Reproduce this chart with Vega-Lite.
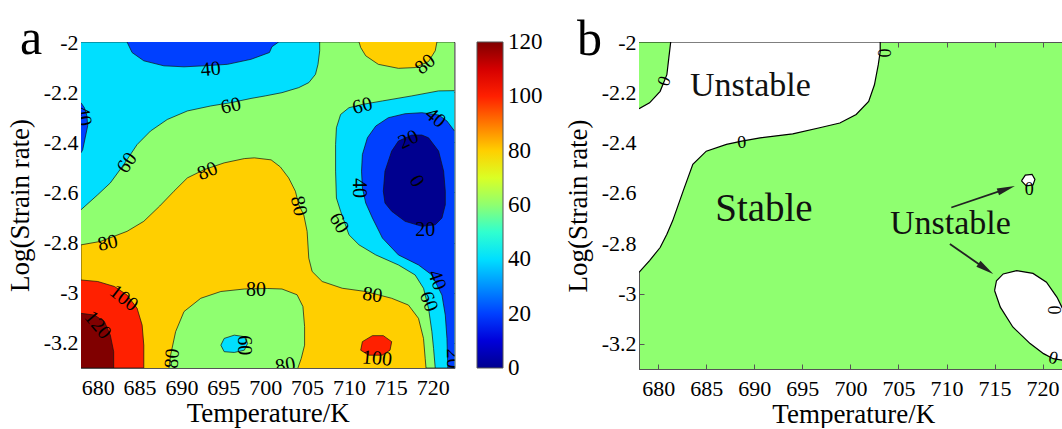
{
  "$schema": "https://vega.github.io/schema/vega-lite/v6.json",
  "background": "white",
  "padding": {"left": 5, "top": 13, "right": 0, "bottom": 0},
  "spacing": 19,
  "config": {
    "font": "Liberation Serif",
    "style": {"guide-label": {"font": "Liberation Serif"}, "guide-title": {"font": "Liberation Serif"}},
    "text": {"font": "Liberation Serif", "color": "#000"},
    "axis": {"labelFont": "Liberation Serif", "titleFont": "Liberation Serif", "labelFontSize": 22, "titleFontSize": 27, "titleFontWeight": "normal", "labelColor": "#000", "titleColor": "#000", "grid": false, "domainColor": "#555", "tickColor": "#555", "tickSize": -5, "labelPadding": 14},
    "axisY": {"labelPadding": 8, "titlePadding": 9},
    "axisX": {"titlePadding": 2},
    "legend": {"labelFont": "Liberation Serif"}
  },
  "resolve": {"scale": {"x": "independent", "y": "independent", "fill": "independent"}, "legend": {"fill": "independent"}},
  "datasets": {
    "a_regions": [
      {"region": "r01", "i": 1, "T": 678, "Y": -2, "level": 60},
      {"region": "r01", "i": 2, "T": 722.6, "Y": -2, "level": 60},
      {"region": "r01", "i": 3, "T": 722.6, "Y": -3.3, "level": 60},
      {"region": "r01", "i": 4, "T": 678, "Y": -3.3, "level": 60},

      {"region": "r02", "i": 1, "T": 678, "Y": -2, "level": 40},
      {"region": "r02", "i": 2, "T": 706.5, "Y": -2, "level": 40},
      {"region": "r02", "i": 3, "T": 706.5, "Y": -2.035, "level": 40},
      {"region": "r02", "i": 4, "T": 706.3, "Y": -2.089, "level": 40},
      {"region": "r02", "i": 5, "T": 706.0, "Y": -2.129, "level": 40},
      {"region": "r02", "i": 6, "T": 705.2, "Y": -2.162, "level": 40},
      {"region": "r02", "i": 7, "T": 704.0, "Y": -2.182, "level": 40},
      {"region": "r02", "i": 8, "T": 702.0, "Y": -2.202, "level": 40},
      {"region": "r02", "i": 9, "T": 700.0, "Y": -2.215, "level": 40},
      {"region": "r02", "i": 10, "T": 698.3, "Y": -2.225, "level": 40},
      {"region": "r02", "i": 11, "T": 695.9, "Y": -2.242, "level": 40},
      {"region": "r02", "i": 12, "T": 693.5, "Y": -2.255, "level": 40},
      {"region": "r02", "i": 13, "T": 690.7, "Y": -2.275, "level": 40},
      {"region": "r02", "i": 14, "T": 688.3, "Y": -2.309, "level": 40},
      {"region": "r02", "i": 15, "T": 686.3, "Y": -2.355, "level": 40},
      {"region": "r02", "i": 16, "T": 684.7, "Y": -2.409, "level": 40},
      {"region": "r02", "i": 17, "T": 683.1, "Y": -2.489, "level": 40},
      {"region": "r02", "i": 18, "T": 681.5, "Y": -2.562, "level": 40},
      {"region": "r02", "i": 19, "T": 680.0, "Y": -2.609, "level": 40},
      {"region": "r02", "i": 20, "T": 678.0, "Y": -2.669, "level": 40},

      {"region": "r03", "i": 1, "T": 722.6, "Y": -2.194, "level": 40},
      {"region": "r03", "i": 2, "T": 720.7, "Y": -2.195, "level": 40},
      {"region": "r03", "i": 3, "T": 717.5, "Y": -2.215, "level": 40},
      {"region": "r03", "i": 4, "T": 714.0, "Y": -2.235, "level": 40},
      {"region": "r03", "i": 5, "T": 711.6, "Y": -2.249, "level": 40},
      {"region": "r03", "i": 6, "T": 710.0, "Y": -2.262, "level": 40},
      {"region": "r03", "i": 7, "T": 709.0, "Y": -2.289, "level": 40},
      {"region": "r03", "i": 8, "T": 708.5, "Y": -2.342, "level": 40},
      {"region": "r03", "i": 9, "T": 708.4, "Y": -2.409, "level": 40},
      {"region": "r03", "i": 10, "T": 708.4, "Y": -2.515, "level": 40},
      {"region": "r03", "i": 11, "T": 708.5, "Y": -2.622, "level": 40},
      {"region": "r03", "i": 12, "T": 709.0, "Y": -2.675, "level": 40},
      {"region": "r03", "i": 13, "T": 710.0, "Y": -2.769, "level": 40},
      {"region": "r03", "i": 14, "T": 711.2, "Y": -2.809, "level": 40},
      {"region": "r03", "i": 15, "T": 713.2, "Y": -2.849, "level": 40},
      {"region": "r03", "i": 16, "T": 715.9, "Y": -2.889, "level": 40},
      {"region": "r03", "i": 17, "T": 717.9, "Y": -2.929, "level": 40},
      {"region": "r03", "i": 18, "T": 718.9, "Y": -2.982, "level": 40},
      {"region": "r03", "i": 19, "T": 719.5, "Y": -3.062, "level": 40},
      {"region": "r03", "i": 20, "T": 719.9, "Y": -3.155, "level": 40},
      {"region": "r03", "i": 21, "T": 720.1, "Y": -3.222, "level": 40},
      {"region": "r03", "i": 22, "T": 720.3, "Y": -3.3, "level": 40},
      {"region": "r03", "i": 23, "T": 722.6, "Y": -3.3, "level": 40},

      {"region": "r04", "i": 1, "T": 683.5, "Y": -2.0, "level": 20},
      {"region": "r04", "i": 2, "T": 684.1, "Y": -2.042, "level": 20},
      {"region": "r04", "i": 3, "T": 685.5, "Y": -2.075, "level": 20},
      {"region": "r04", "i": 4, "T": 687.9, "Y": -2.095, "level": 20},
      {"region": "r04", "i": 5, "T": 690.3, "Y": -2.099, "level": 20},
      {"region": "r04", "i": 6, "T": 692.7, "Y": -2.095, "level": 20},
      {"region": "r04", "i": 7, "T": 695.5, "Y": -2.089, "level": 20},
      {"region": "r04", "i": 8, "T": 698.3, "Y": -2.069, "level": 20},
      {"region": "r04", "i": 9, "T": 700.5, "Y": -2.042, "level": 20},
      {"region": "r04", "i": 10, "T": 700.8, "Y": -2.019, "level": 20},
      {"region": "r04", "i": 11, "T": 701.6, "Y": -2.0, "level": 20},

      {"region": "r05", "i": 1, "T": 678.0, "Y": -2.242, "level": 20},
      {"region": "r05", "i": 2, "T": 678.4, "Y": -2.262, "level": 20},
      {"region": "r05", "i": 3, "T": 678.7, "Y": -2.294, "level": 20},
      {"region": "r05", "i": 4, "T": 678.8, "Y": -2.334, "level": 20},
      {"region": "r05", "i": 5, "T": 678.5, "Y": -2.382, "level": 20},
      {"region": "r05", "i": 6, "T": 678.2, "Y": -2.430, "level": 20},
      {"region": "r05", "i": 7, "T": 678.0, "Y": -2.442, "level": 20},

      {"region": "r06", "i": 1, "T": 722.6, "Y": -2.355, "level": 20},
      {"region": "r06", "i": 2, "T": 721.7, "Y": -2.315, "level": 20},
      {"region": "r06", "i": 3, "T": 720.7, "Y": -2.291, "level": 20},
      {"region": "r06", "i": 4, "T": 718.7, "Y": -2.282, "level": 20},
      {"region": "r06", "i": 5, "T": 716.7, "Y": -2.286, "level": 20},
      {"region": "r06", "i": 6, "T": 714.7, "Y": -2.302, "level": 20},
      {"region": "r06", "i": 7, "T": 713.2, "Y": -2.335, "level": 20},
      {"region": "r06", "i": 8, "T": 712.2, "Y": -2.382, "level": 20},
      {"region": "r06", "i": 9, "T": 711.6, "Y": -2.449, "level": 20},
      {"region": "r06", "i": 10, "T": 711.5, "Y": -2.515, "level": 20},
      {"region": "r06", "i": 11, "T": 711.6, "Y": -2.582, "level": 20},
      {"region": "r06", "i": 12, "T": 712.0, "Y": -2.642, "level": 20},
      {"region": "r06", "i": 13, "T": 712.8, "Y": -2.702, "level": 20},
      {"region": "r06", "i": 14, "T": 714.0, "Y": -2.782, "level": 20},
      {"region": "r06", "i": 15, "T": 715.9, "Y": -2.849, "level": 20},
      {"region": "r06", "i": 16, "T": 718.3, "Y": -2.889, "level": 20},
      {"region": "r06", "i": 17, "T": 719.9, "Y": -2.929, "level": 20},
      {"region": "r06", "i": 18, "T": 721.1, "Y": -3.009, "level": 20},
      {"region": "r06", "i": 19, "T": 721.5, "Y": -3.089, "level": 20},
      {"region": "r06", "i": 20, "T": 721.7, "Y": -3.182, "level": 20},
      {"region": "r06", "i": 21, "T": 721.8, "Y": -3.3, "level": 20},
      {"region": "r06", "i": 22, "T": 722.6, "Y": -3.3, "level": 20},

      {"region": "r07", "i": 1, "T": 717.5, "Y": -2.371, "level": 0},
      {"region": "r07", "i": 2, "T": 715.9, "Y": -2.395, "level": 0},
      {"region": "r07", "i": 3, "T": 715.1, "Y": -2.435, "level": 0},
      {"region": "r07", "i": 4, "T": 714.3, "Y": -2.515, "level": 0},
      {"region": "r07", "i": 5, "T": 714.1, "Y": -2.595, "level": 0},
      {"region": "r07", "i": 6, "T": 714.3, "Y": -2.642, "level": 0},
      {"region": "r07", "i": 7, "T": 715.1, "Y": -2.675, "level": 0},
      {"region": "r07", "i": 8, "T": 716.7, "Y": -2.715, "level": 0},
      {"region": "r07", "i": 9, "T": 718.7, "Y": -2.735, "level": 0},
      {"region": "r07", "i": 10, "T": 720.3, "Y": -2.729, "level": 0},
      {"region": "r07", "i": 11, "T": 721.1, "Y": -2.702, "level": 0},
      {"region": "r07", "i": 12, "T": 721.5, "Y": -2.649, "level": 0},
      {"region": "r07", "i": 13, "T": 721.5, "Y": -2.595, "level": 0},
      {"region": "r07", "i": 14, "T": 721.3, "Y": -2.515, "level": 0},
      {"region": "r07", "i": 15, "T": 720.7, "Y": -2.435, "level": 0},
      {"region": "r07", "i": 16, "T": 719.5, "Y": -2.382, "level": 0},
      {"region": "r07", "i": 17, "T": 718.7, "Y": -2.371, "level": 0},
      {"region": "r07", "i": 18, "T": 717.5, "Y": -2.371, "level": 0},

      {"region": "r08", "i": 1, "T": 678.0, "Y": -3.3, "level": 80},
      {"region": "r08", "i": 2, "T": 678.0, "Y": -2.809, "level": 80},
      {"region": "r08", "i": 3, "T": 680.35, "Y": -2.795, "level": 80},
      {"region": "r08", "i": 4, "T": 683.5, "Y": -2.755, "level": 80},
      {"region": "r08", "i": 5, "T": 685.5, "Y": -2.715, "level": 80},
      {"region": "r08", "i": 6, "T": 687.4, "Y": -2.654, "level": 80},
      {"region": "r08", "i": 7, "T": 689.1, "Y": -2.595, "level": 80},
      {"region": "r08", "i": 8, "T": 690.7, "Y": -2.542, "level": 80},
      {"region": "r08", "i": 9, "T": 692.7, "Y": -2.509, "level": 80},
      {"region": "r08", "i": 10, "T": 695.1, "Y": -2.482, "level": 80},
      {"region": "r08", "i": 11, "T": 697.5, "Y": -2.465, "level": 80},
      {"region": "r08", "i": 12, "T": 698.7, "Y": -2.462, "level": 80},
      {"region": "r08", "i": 13, "T": 700.7, "Y": -2.470, "level": 80},
      {"region": "r08", "i": 14, "T": 701.8, "Y": -2.498, "level": 80},
      {"region": "r08", "i": 15, "T": 702.8, "Y": -2.542, "level": 80},
      {"region": "r08", "i": 16, "T": 703.6, "Y": -2.595, "level": 80},
      {"region": "r08", "i": 17, "T": 704.0, "Y": -2.649, "level": 80},
      {"region": "r08", "i": 18, "T": 704.6, "Y": -2.689, "level": 80},
      {"region": "r08", "i": 19, "T": 705.0, "Y": -2.755, "level": 80},
      {"region": "r08", "i": 20, "T": 705.2, "Y": -2.862, "level": 80},
      {"region": "r08", "i": 21, "T": 705.6, "Y": -2.915, "level": 80},
      {"region": "r08", "i": 22, "T": 706.8, "Y": -2.955, "level": 80},
      {"region": "r08", "i": 23, "T": 709.2, "Y": -2.982, "level": 80},
      {"region": "r08", "i": 24, "T": 712.0, "Y": -2.995, "level": 80},
      {"region": "r08", "i": 25, "T": 715.1, "Y": -3.022, "level": 80},
      {"region": "r08", "i": 26, "T": 717.1, "Y": -3.049, "level": 80},
      {"region": "r08", "i": 27, "T": 718.3, "Y": -3.102, "level": 80},
      {"region": "r08", "i": 28, "T": 718.9, "Y": -3.182, "level": 80},
      {"region": "r08", "i": 29, "T": 719.1, "Y": -3.262, "level": 80},
      {"region": "r08", "i": 30, "T": 719.2, "Y": -3.3, "level": 80},

      {"region": "r09", "i": 1, "T": 711.2, "Y": -2.0, "level": 80},
      {"region": "r09", "i": 2, "T": 711.4, "Y": -2.022, "level": 80},
      {"region": "r09", "i": 3, "T": 712.0, "Y": -2.055, "level": 80},
      {"region": "r09", "i": 4, "T": 713.5, "Y": -2.089, "level": 80},
      {"region": "r09", "i": 5, "T": 715.9, "Y": -2.105, "level": 80},
      {"region": "r09", "i": 6, "T": 717.9, "Y": -2.102, "level": 80},
      {"region": "r09", "i": 7, "T": 719.5, "Y": -2.078, "level": 80},
      {"region": "r09", "i": 8, "T": 720.3, "Y": -2.035, "level": 80},
      {"region": "r09", "i": 9, "T": 720.5, "Y": -2.0, "level": 80},

      {"region": "r10", "i": 1, "T": 688.5, "Y": -3.3, "level": 60},
      {"region": "r10", "i": 2, "T": 688.7, "Y": -3.249, "level": 60},
      {"region": "r10", "i": 3, "T": 689.3, "Y": -3.155, "level": 60},
      {"region": "r10", "i": 4, "T": 690.3, "Y": -3.075, "level": 60},
      {"region": "r10", "i": 5, "T": 692.3, "Y": -3.022, "level": 60},
      {"region": "r10", "i": 6, "T": 694.7, "Y": -2.995, "level": 60},
      {"region": "r10", "i": 7, "T": 697.5, "Y": -2.985, "level": 60},
      {"region": "r10", "i": 8, "T": 700.3, "Y": -2.983, "level": 60},
      {"region": "r10", "i": 9, "T": 702.0, "Y": -2.985, "level": 60},
      {"region": "r10", "i": 10, "T": 703.8, "Y": -3.008, "level": 60},
      {"region": "r10", "i": 11, "T": 704.5, "Y": -3.055, "level": 60},
      {"region": "r10", "i": 12, "T": 704.7, "Y": -3.135, "level": 60},
      {"region": "r10", "i": 13, "T": 704.7, "Y": -3.209, "level": 60},
      {"region": "r10", "i": 14, "T": 704.3, "Y": -3.262, "level": 60},
      {"region": "r10", "i": 15, "T": 703.9, "Y": -3.3, "level": 60},

      {"region": "r11", "i": 1, "T": 695.1, "Y": -3.182, "level": 40},
      {"region": "r11", "i": 2, "T": 696.3, "Y": -3.169, "level": 40},
      {"region": "r11", "i": 3, "T": 697.5, "Y": -3.175, "level": 40},
      {"region": "r11", "i": 4, "T": 697.9, "Y": -3.202, "level": 40},
      {"region": "r11", "i": 5, "T": 697.5, "Y": -3.229, "level": 40},
      {"region": "r11", "i": 6, "T": 696.3, "Y": -3.238, "level": 40},
      {"region": "r11", "i": 7, "T": 695.1, "Y": -3.235, "level": 40},
      {"region": "r11", "i": 8, "T": 694.7, "Y": -3.209, "level": 40},
      {"region": "r11", "i": 9, "T": 695.1, "Y": -3.182, "level": 40},

      {"region": "r12", "i": 1, "T": 678.0, "Y": -2.949, "level": 100},
      {"region": "r12", "i": 2, "T": 680.0, "Y": -2.955, "level": 100},
      {"region": "r12", "i": 3, "T": 682.0, "Y": -2.975, "level": 100},
      {"region": "r12", "i": 4, "T": 683.5, "Y": -3.009, "level": 100},
      {"region": "r12", "i": 5, "T": 684.7, "Y": -3.062, "level": 100},
      {"region": "r12", "i": 6, "T": 685.3, "Y": -3.129, "level": 100},
      {"region": "r12", "i": 7, "T": 685.5, "Y": -3.209, "level": 100},
      {"region": "r12", "i": 8, "T": 685.5, "Y": -3.3, "level": 100},
      {"region": "r12", "i": 9, "T": 678.0, "Y": -3.3, "level": 100},

      {"region": "r13", "i": 1, "T": 711.6, "Y": -3.195, "level": 100},
      {"region": "r13", "i": 2, "T": 712.8, "Y": -3.171, "level": 100},
      {"region": "r13", "i": 3, "T": 714.1, "Y": -3.171, "level": 100},
      {"region": "r13", "i": 4, "T": 715.1, "Y": -3.195, "level": 100},
      {"region": "r13", "i": 5, "T": 714.9, "Y": -3.229, "level": 100},
      {"region": "r13", "i": 6, "T": 713.95, "Y": -3.249, "level": 100},
      {"region": "r13", "i": 7, "T": 712.35, "Y": -3.249, "level": 100},
      {"region": "r13", "i": 8, "T": 711.4, "Y": -3.229, "level": 100},
      {"region": "r13", "i": 9, "T": 711.6, "Y": -3.195, "level": 100},

      {"region": "r14", "i": 1, "T": 678.0, "Y": -3.082, "level": 120},
      {"region": "r14", "i": 2, "T": 679.6, "Y": -3.089, "level": 120},
      {"region": "r14", "i": 3, "T": 680.8, "Y": -3.115, "level": 120},
      {"region": "r14", "i": 4, "T": 681.5, "Y": -3.169, "level": 120},
      {"region": "r14", "i": 5, "T": 681.9, "Y": -3.235, "level": 120},
      {"region": "r14", "i": 6, "T": 681.9, "Y": -3.3, "level": 120},
      {"region": "r14", "i": 7, "T": 678.0, "Y": -3.3, "level": 120}
    ],
    "a_labels": [
      {"label": "40", "T": 693.5, "Y": -2.109, "rot": -5},
      {"label": "40", "T": 678.3, "Y": -2.295, "rot": 80},
      {"label": "60", "T": 695.9, "Y": -2.255, "rot": -12},
      {"label": "60", "T": 683.5, "Y": -2.482, "rot": -55},
      {"label": "80", "T": 693.1, "Y": -2.515, "rot": -22},
      {"label": "80", "T": 681.2, "Y": -2.802, "rot": -12},
      {"label": "100", "T": 683.1, "Y": -3.022, "rot": 38},
      {"label": "120", "T": 680.0, "Y": -3.129, "rot": 50},
      {"label": "80", "T": 688.9, "Y": -3.262, "rot": -85},
      {"label": "60", "T": 697.5, "Y": -3.209, "rot": 90},
      {"label": "80", "T": 698.9, "Y": -2.989, "rot": 0},
      {"label": "80", "T": 702.4, "Y": -3.289, "rot": -10},
      {"label": "80", "T": 704.0, "Y": -2.654, "rot": 78},
      {"label": "60", "T": 708.8, "Y": -2.722, "rot": 60},
      {"label": "80", "T": 712.8, "Y": -3.009, "rot": 8},
      {"label": "100", "T": 713.35, "Y": -3.262, "rot": 5},
      {"label": "60", "T": 719.5, "Y": -3.035, "rot": 70},
      {"label": "40", "T": 720.5, "Y": -2.949, "rot": 70},
      {"label": "60", "T": 711.6, "Y": -2.255, "rot": -15},
      {"label": "80", "T": 719.1, "Y": -2.089, "rot": -40},
      {"label": "40", "T": 720.3, "Y": -2.302, "rot": 40},
      {"label": "20", "T": 717.1, "Y": -2.389, "rot": -25},
      {"label": "0", "T": 718.1, "Y": -2.555, "rot": 60},
      {"label": "40", "T": 711.2, "Y": -2.582, "rot": 90},
      {"label": "20", "T": 719.1, "Y": -2.749, "rot": 0},
      {"label": "20", "T": 722.4, "Y": -3.262, "rot": 90}
    ],
    "letters": [
      {"panel": "a", "label": "a", "T": 672.04, "Y": -2.049},
      {"panel": "b", "label": "b", "T": 672.84, "Y": -2.0515}
    ],
    "b_regions": [
      {"region": "w1", "state": "unstable", "i": 1, "T": 678.0, "Y": -2.0},
      {"region": "w1", "state": "unstable", "i": 2, "T": 703.1, "Y": -2.0},
      {"region": "w1", "state": "unstable", "i": 3, "T": 703.1, "Y": -2.038},
      {"region": "w1", "state": "unstable", "i": 4, "T": 702.9, "Y": -2.090},
      {"region": "w1", "state": "unstable", "i": 5, "T": 702.5, "Y": -2.170},
      {"region": "w1", "state": "unstable", "i": 6, "T": 701.9, "Y": -2.236},
      {"region": "w1", "state": "unstable", "i": 7, "T": 700.6, "Y": -2.288},
      {"region": "w1", "state": "unstable", "i": 8, "T": 698.9, "Y": -2.322},
      {"region": "w1", "state": "unstable", "i": 9, "T": 696.8, "Y": -2.341},
      {"region": "w1", "state": "unstable", "i": 10, "T": 694.0, "Y": -2.365},
      {"region": "w1", "state": "unstable", "i": 11, "T": 690.6, "Y": -2.381},
      {"region": "w1", "state": "unstable", "i": 12, "T": 688.7, "Y": -2.394},
      {"region": "w1", "state": "unstable", "i": 13, "T": 687.1, "Y": -2.407},
      {"region": "w1", "state": "unstable", "i": 14, "T": 685.0, "Y": -2.434},
      {"region": "w1", "state": "unstable", "i": 15, "T": 683.6, "Y": -2.486},
      {"region": "w1", "state": "unstable", "i": 16, "T": 682.6, "Y": -2.592},
      {"region": "w1", "state": "unstable", "i": 17, "T": 681.5, "Y": -2.711},
      {"region": "w1", "state": "unstable", "i": 18, "T": 680.9, "Y": -2.764},
      {"region": "w1", "state": "unstable", "i": 19, "T": 680.2, "Y": -2.817},
      {"region": "w1", "state": "unstable", "i": 20, "T": 679.1, "Y": -2.869},
      {"region": "w1", "state": "unstable", "i": 21, "T": 678.0, "Y": -2.916},

      {"region": "w2", "state": "unstable", "i": 1, "T": 717.8, "Y": -2.552},
      {"region": "w2", "state": "unstable", "i": 2, "T": 718.2, "Y": -2.529},
      {"region": "w2", "state": "unstable", "i": 3, "T": 718.9, "Y": -2.526},
      {"region": "w2", "state": "unstable", "i": 4, "T": 719.2, "Y": -2.546},
      {"region": "w2", "state": "unstable", "i": 5, "T": 719.0, "Y": -2.568},
      {"region": "w2", "state": "unstable", "i": 6, "T": 718.3, "Y": -2.572},
      {"region": "w2", "state": "unstable", "i": 7, "T": 717.8, "Y": -2.552},

      {"region": "w3", "state": "unstable", "i": 1, "T": 715.0, "Y": -2.988},
      {"region": "w3", "state": "unstable", "i": 2, "T": 715.2, "Y": -2.949},
      {"region": "w3", "state": "unstable", "i": 3, "T": 715.9, "Y": -2.922},
      {"region": "w3", "state": "unstable", "i": 4, "T": 717.3, "Y": -2.909},
      {"region": "w3", "state": "unstable", "i": 5, "T": 719.0, "Y": -2.920},
      {"region": "w3", "state": "unstable", "i": 6, "T": 720.4, "Y": -2.955},
      {"region": "w3", "state": "unstable", "i": 7, "T": 721.5, "Y": -3.015},
      {"region": "w3", "state": "unstable", "i": 8, "T": 722.0, "Y": -3.054},
      {"region": "w3", "state": "unstable", "i": 9, "T": 722.6, "Y": -3.099},
      {"region": "w3", "state": "unstable", "i": 10, "T": 722.6, "Y": -3.250},
      {"region": "w3", "state": "unstable", "i": 11, "T": 722.0, "Y": -3.265},
      {"region": "w3", "state": "unstable", "i": 12, "T": 721.1, "Y": -3.259},
      {"region": "w3", "state": "unstable", "i": 13, "T": 720.1, "Y": -3.239},
      {"region": "w3", "state": "unstable", "i": 14, "T": 718.7, "Y": -3.199},
      {"region": "w3", "state": "unstable", "i": 15, "T": 716.9, "Y": -3.133},
      {"region": "w3", "state": "unstable", "i": 16, "T": 715.6, "Y": -3.054},
      {"region": "w3", "state": "unstable", "i": 17, "T": 715.0, "Y": -2.988},

      {"region": "g1", "state": "stable", "i": 1, "T": 678.0, "Y": -2.0},
      {"region": "g1", "state": "stable", "i": 2, "T": 681.3, "Y": -2.0},
      {"region": "g1", "state": "stable", "i": 3, "T": 681.1, "Y": -2.064},
      {"region": "g1", "state": "stable", "i": 4, "T": 680.9, "Y": -2.130},
      {"region": "g1", "state": "stable", "i": 5, "T": 680.2, "Y": -2.196},
      {"region": "g1", "state": "stable", "i": 6, "T": 679.1, "Y": -2.242},
      {"region": "g1", "state": "stable", "i": 7, "T": 678.0, "Y": -2.265}
    ],
    "b_labels": [
      {"label": "0", "T": 680.7, "Y": -2.156, "rot": -70},
      {"label": "0", "T": 688.7, "Y": -2.401, "rot": -5},
      {"label": "0", "T": 703.4, "Y": -2.044, "rot": 90},
      {"label": "0", "T": 718.6, "Y": -2.589, "rot": 0},
      {"label": "0", "T": 721.1, "Y": -3.065, "rot": 90},
      {"label": "0", "T": 721.1, "Y": -3.259, "rot": 15}
    ],
    "b_text": [
      {"label": "Unstable", "kind": "u", "T": 689.6, "Y": -2.216},
      {"label": "Stable", "kind": "s", "T": 691.0, "Y": -2.711},
      {"label": "Unstable", "kind": "u", "T": 710.4, "Y": -2.764}
    ],
    "b_arrows": [
      {"T": 710.5, "Y": -2.658, "T2": 716.23, "Y2": -2.584, "rot": 71.1},
      {"T": 710.35, "Y": -2.803, "T2": 714.09, "Y2": -2.902, "rot": 124.7}
    ]
  },
  "hconcat": [
    {
      "width": 373.5,
      "height": 326,
      "view": {"stroke": "#555", "strokeWidth": 1},
      "resolve": {"axis": {"x": "independent", "y": "independent"}},
      "layer": [
        {
          "data": {"name": "a_regions"},
          "mark": {"type": "line", "stroke": "#111", "strokeWidth": 0.7, "clip": true},
          "encoding": {
            "x": {"field": "T", "type": "quantitative", "scale": {"domain": [678, 722.6], "nice": false, "zero": false},
                  "axis": {"title": "Temperature/K", "labelFont": "Liberation Serif", "titleFont": "Liberation Serif", "values": [680, 685, 690, 695, 700, 705, 710, 715, 720]}},
            "y": {"field": "Y", "type": "quantitative", "scale": {"domain": [-3.3, -2], "nice": false, "zero": false},
                  "axis": {"title": "Log(Strain rate)", "labelFont": "Liberation Serif", "titleFont": "Liberation Serif", "values": [-3.2, -3, -2.8, -2.6, -2.4, -2.2, -2], "labelExpr": "'' + datum.value"}},
            "detail": {"field": "region", "type": "nominal"},
            "order": {"field": "i", "type": "quantitative"},
            "fill": {"field": "level", "type": "quantitative",
                     "scale": {"type": "linear", "domain": [0, 15, 20, 40, 45, 60, 75, 80, 100, 105, 120],
                               "range": ["#00008F", "#0000FF", "#0040FF", "#00DFFF", "#00FFFF", "#8FFF70", "#FFFF00", "#FFCF00", "#FF2000", "#FF0000", "#800000"],
                               "interpolate": "rgb"},
                     "legend": {"title": null, "values": [0, 20, 40, 60, 80, 100, 120], "direction": "vertical", "orient": "right",
                                "gradientLength": 326, "gradientThickness": 26, "offset": 22, "padding": 0,
                                "labelFontSize": 23, "labelFont": "Liberation Serif", "labelColor": "#000", "labelOffset": 5,
                                "labelBaseline": "middle", "labelOverlap": false,
                                "gradientStrokeColor": "#555", "gradientStrokeWidth": 1,
                                "encode": {"labels": {"enter": {"baseline": {"value": "middle"}, "font": {"value": "Liberation Serif"}}, "update": {"baseline": {"value": "middle"}, "font": {"value": "Liberation Serif"}}}}}}
          }
        },
        {
          "data": {"name": "a_labels"},
          "mark": {"type": "text", "fontSize": 20, "clip": true, "font": "Liberation Serif", "color": "#000"},
          "encoding": {
            "x": {"field": "T", "type": "quantitative", "axis": {"orient": "top", "labels": false, "title": null, "domain": false, "values": [680, 685, 690, 695, 700, 705, 710, 715, 720]}},
            "y": {"field": "Y", "type": "quantitative", "axis": {"orient": "right", "labels": false, "title": null, "domain": false, "values": [-3.2, -3, -2.8, -2.6, -2.4, -2.2, -2]}},
            "text": {"field": "label"},
            "angle": {"field": "rot", "type": "quantitative", "scale": null}
          }
        },
        {
          "data": {"name": "letters"},
          "transform": [{"filter": "datum.panel === 'a'"}],
          "mark": {"type": "text", "fontSize": 50, "baseline": "alphabetic", "align": "center", "clip": false, "font": "Liberation Serif", "color": "#000"},
          "encoding": {
            "x": {"field": "T", "type": "quantitative", "axis": null},
            "y": {"field": "Y", "type": "quantitative", "axis": null},
            "text": {"field": "label"}
          }
        }
      ]
    },
    {
      "width": 428.6,
      "height": 327,
      "view": {"fill": "#8FFF70", "stroke": "#555", "strokeWidth": 1},
      "resolve": {"axis": {"x": "independent", "y": "independent"}},
      "layer": [
        {
          "data": {"name": "b_regions"},
          "transform": [{"filter": "datum.state === 'unstable'"}],
          "mark": {"type": "line", "fill": "#FFFFFF", "stroke": "#000", "strokeWidth": 1.2, "clip": true},
          "encoding": {
            "x": {"field": "T", "type": "quantitative", "scale": {"domain": [678, 722.6], "nice": false, "zero": false},
                  "axis": {"title": "Temperature/K", "labelFont": "Liberation Serif", "titleFont": "Liberation Serif", "values": [680, 685, 690, 695, 700, 705, 710, 715, 720]}},
            "y": {"field": "Y", "type": "quantitative", "scale": {"domain": [-3.3, -2], "nice": false, "zero": false},
                  "axis": {"title": "Log(Strain rate)", "labelFont": "Liberation Serif", "titleFont": "Liberation Serif", "values": [-3.2, -3, -2.8, -2.6, -2.4, -2.2, -2], "labelExpr": "'' + datum.value"}},
            "detail": {"field": "region", "type": "nominal"},
            "order": {"field": "i", "type": "quantitative"}
          }
        },
        {
          "data": {"name": "b_regions"},
          "transform": [{"filter": "datum.state === 'stable'"}],
          "mark": {"type": "line", "fill": "#8FFF70", "stroke": "#000", "strokeWidth": 1.2, "clip": true},
          "encoding": {
            "x": {"field": "T", "type": "quantitative", "axis": null},
            "y": {"field": "Y", "type": "quantitative", "axis": null},
            "detail": {"field": "region", "type": "nominal"},
            "order": {"field": "i", "type": "quantitative"}
          }
        },
        {
          "data": {"name": "b_labels"},
          "mark": {"type": "text", "fontSize": 18, "clip": true, "font": "Liberation Serif", "color": "#000"},
          "encoding": {
            "x": {"field": "T", "type": "quantitative", "axis": {"orient": "top", "labels": false, "title": null, "domain": false, "values": [680, 685, 690, 695, 700, 705, 710, 715, 720]}},
            "y": {"field": "Y", "type": "quantitative", "axis": null},
            "text": {"field": "label"},
            "angle": {"field": "rot", "type": "quantitative", "scale": null}
          }
        },
        {
          "data": {"name": "b_text"},
          "transform": [{"filter": "datum.kind === 's'"}],
          "mark": {"type": "text", "fontSize": 39, "baseline": "alphabetic", "align": "center", "font": "Liberation Serif", "color": "#111"},
          "encoding": {
            "x": {"field": "T", "type": "quantitative", "axis": null},
            "y": {"field": "Y", "type": "quantitative", "axis": null},
            "text": {"field": "label"}
          }
        },
        {
          "data": {"name": "b_text"},
          "transform": [{"filter": "datum.kind === 'u'"}],
          "mark": {"type": "text", "fontSize": 34, "baseline": "alphabetic", "align": "center", "font": "Liberation Serif", "color": "#111"},
          "encoding": {
            "x": {"field": "T", "type": "quantitative", "axis": null},
            "y": {"field": "Y", "type": "quantitative", "axis": null},
            "text": {"field": "label"}
          }
        },
        {
          "data": {"name": "b_arrows"},
          "mark": {"type": "rule", "stroke": "#222", "strokeWidth": 1.8},
          "encoding": {
            "x": {"field": "T", "type": "quantitative", "axis": null},
            "y": {"field": "Y", "type": "quantitative", "axis": null},
            "x2": {"field": "T2"},
            "y2": {"field": "Y2"}
          }
        },
        {
          "data": {"name": "b_arrows"},
          "mark": {"type": "point", "shape": "M0,-1L0.4,1L-0.4,1Z", "size": 324, "filled": true, "color": "#222", "opacity": 1},
          "encoding": {
            "x": {"field": "T2", "type": "quantitative", "axis": null},
            "y": {"field": "Y2", "type": "quantitative", "axis": null},
            "angle": {"field": "rot", "type": "quantitative", "scale": null}
          }
        },
        {
          "data": {"name": "letters"},
          "transform": [{"filter": "datum.panel === 'b'"}],
          "mark": {"type": "text", "fontSize": 50, "baseline": "alphabetic", "align": "center", "clip": false, "font": "Liberation Serif", "color": "#000"},
          "encoding": {
            "x": {"field": "T", "type": "quantitative", "axis": null},
            "y": {"field": "Y", "type": "quantitative", "axis": null},
            "text": {"field": "label"}
          }
        }
      ]
    }
  ]
}
